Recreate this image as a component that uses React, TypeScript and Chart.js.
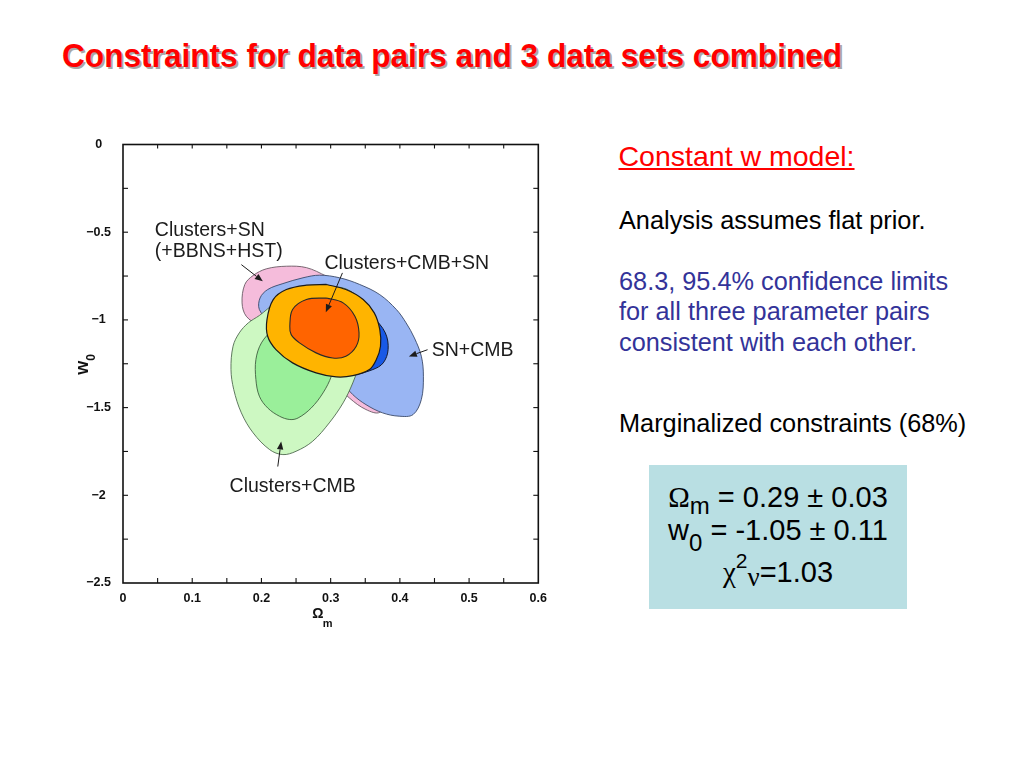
import React, { useEffect, useRef } from 'react';
import { Chart, registerables } from 'chart.js';

Chart.register(...registerables);

// ---- Contour data (Omega_m, w0) ----
// Clusters+SN (+BBNS+HST), 95% (pink)
const clSnOuterOm = [0.197, 0.178, 0.172, 0.176, 0.188, 0.207, 0.236, 0.265, 0.294, 0.332, 0.366, 0.390, 0.395, 0.385, 0.371, 0.351, 0.327, 0.284, 0.236];
const clSnOuterW = [-1.036, -0.979, -0.903, -0.798, -0.747, -0.709, -0.694, -0.702, -0.751, -0.827, -0.941, -1.093, -1.245, -1.435, -1.527, -1.511, -1.445, -1.283, -1.131];

// SN+CMB, 95% (light blue)
const snCmbOuterOm = [0.212, 0.197, 0.198, 0.209, 0.231, 0.260, 0.284, 0.313, 0.342, 0.371, 0.395, 0.409, 0.421, 0.431, 0.434, 0.431, 0.419, 0.399, 0.375, 0.351, 0.332, 0.308, 0.274, 0.236];
const snCmbOuterW = [-1.017, -0.941, -0.875, -0.827, -0.793, -0.760, -0.745, -0.760, -0.798, -0.856, -0.941, -1.017, -1.103, -1.207, -1.321, -1.454, -1.540, -1.549, -1.530, -1.483, -1.426, -1.321, -1.207, -1.093];

// SN+CMB, 68% (dark blue)
const snCmbInnerOm = [0.217, 0.245, 0.294, 0.332, 0.361, 0.379, 0.383, 0.376, 0.361, 0.332, 0.294, 0.245, 0.217];
const snCmbInnerW = [-0.922, -0.837, -0.808, -0.846, -0.979, -1.074, -1.169, -1.245, -1.283, -1.312, -1.302, -1.226, -1.093];

// Clusters+CMB, 95% (light green)
const clCmbOuterOm = [0.294, 0.322, 0.342, 0.351, 0.349, 0.342, 0.332, 0.318, 0.298, 0.274, 0.250, 0.231, 0.212, 0.188, 0.171, 0.160, 0.156, 0.159, 0.168, 0.181, 0.197, 0.221, 0.255];
const clCmbOuterW = [-0.808, -0.823, -0.884, -0.979, -1.131, -1.245, -1.359, -1.473, -1.587, -1.692, -1.749, -1.768, -1.740, -1.644, -1.530, -1.397, -1.283, -1.150, -1.074, -1.017, -0.975, -0.903, -0.846];

// Clusters+CMB, 68% (green)
const clCmbInnerOm = [0.245, 0.274, 0.298, 0.308, 0.301, 0.289, 0.272, 0.253, 0.241, 0.226, 0.209, 0.197, 0.192, 0.192, 0.200, 0.217];
const clCmbInnerW = [-0.979, -0.979, -1.055, -1.207, -1.321, -1.416, -1.502, -1.559, -1.568, -1.549, -1.502, -1.435, -1.340, -1.226, -1.131, -1.055];

// Clusters+CMB+SN, 95% (orange)
const allOuterOm = [0.294, 0.322, 0.347, 0.363, 0.371, 0.372, 0.366, 0.356, 0.332, 0.308, 0.279, 0.245, 0.221, 0.209, 0.208, 0.217, 0.236, 0.265];
const allOuterW = [-0.798, -0.827, -0.884, -0.960, -1.055, -1.150, -1.226, -1.283, -1.318, -1.325, -1.302, -1.245, -1.169, -1.093, -0.998, -0.884, -0.827, -0.802];

// Clusters+CMB+SN, 68% (red-orange)
const allInnerOm = [0.294, 0.318, 0.335, 0.341, 0.337, 0.322, 0.303, 0.279, 0.255, 0.243, 0.241, 0.245, 0.265];
const allInnerW = [-0.875, -0.903, -0.979, -1.074, -1.150, -1.207, -1.217, -1.188, -1.131, -1.084, -1.036, -0.941, -0.884];

// ---- Axis ranges ----
const xRange = [0, 0.6];
const yRange = [-2.5, 0];
const xStep = 0.05;
const yStep = 0.25;

// ---- Annotation texts (anchored in data units) ----
const labelTexts = ['Clusters+SN', '(+BBNS+HST)', 'Clusters+CMB+SN', 'SN+CMB', 'Clusters+CMB'];
const labelOm = [0.046, 0.046, 0.291, 0.446, 0.154];
const labelW = [-0.52, -0.639, -0.709, -1.208, -1.979];

const arrowFromOm = [0.171, 0.317, 0.440, 0.2236];
const arrowFromW = [-0.685, -0.732, -1.170, -1.836];
const arrowToOm = [0.202, 0.293, 0.413, 0.2285];
const arrowToW = [-0.780, -0.957, -1.208, -1.693];

const SANS = '"Liberation Sans", Arial, Helvetica, sans-serif';
const SERIF = '"Liberation Serif", "DejaVu Serif", "Times New Roman", serif';

function zip(om: number[], w: number[]) {
  const pts = om.map((v, i) => ({ x: v, y: w[i] }));
  pts.push({ ...pts[0] });
  return pts;
}

const fmtX = (v: number) => {
  const k = Math.round(v * 20);
  if (k % 2 !== 0) return '';
  return k === 0 ? '0' : (k / 20).toFixed(1);
};
const fmtY = (v: number) => {
  const k = Math.round(v * 4);
  if (k % 2 !== 0) return '';
  if (k === 0) return '0';
  const a = Math.abs(k / 4);
  return '\u2212' + (Number.isInteger(a) ? String(a) : a.toFixed(1));
};

const framePlugin = {
  id: 'frameTicks',
  afterDatasetsDraw(chart: any) {
    const { ctx, chartArea: a, scales } = chart;
    const xs = scales.x;
    const ys = scales.y;
    ctx.save();
    ctx.strokeStyle = '#111';
    ctx.lineWidth = 1.1;
    const seg = (x1: number, y1: number, x2: number, y2: number) => {
      ctx.beginPath();
      ctx.moveTo(x1, y1);
      ctx.lineTo(x2, y2);
      ctx.stroke();
    };
    xs.ticks.forEach((t: any) => {
      const px = xs.getPixelForValue(t.value);
      if (px <= a.left + 1 || px >= a.right - 1) return;
      seg(px, a.bottom, px, a.bottom - 5);
      seg(px, a.top, px, a.top + 4);
    });
    ys.ticks.forEach((t: any) => {
      const py = ys.getPixelForValue(t.value);
      if (py <= a.top + 1 || py >= a.bottom - 1) return;
      seg(a.left, py, a.left + 5, py);
      seg(a.right, py, a.right - 5, py);
    });
    ctx.lineWidth = 1.6;
    ctx.strokeRect(a.left, a.top, a.right - a.left, a.bottom - a.top);
    ctx.restore();
  },
};

const annotationPlugin = {
  id: 'contourLabels',
  afterDatasetsDraw(chart: any) {
    const { ctx, scales } = chart;
    const xs = scales.x;
    const ys = scales.y;
    ctx.save();
    ctx.fillStyle = '#1c1c1c';
    ctx.strokeStyle = '#1c1c1c';
    ctx.font = `19.5px ${SANS}`;
    ctx.textBaseline = 'alphabetic';
    ctx.textAlign = 'left';
    labelTexts.forEach((t, i) => {
      ctx.fillText(t, xs.getPixelForValue(labelOm[i]), ys.getPixelForValue(labelW[i]));
    });
    ctx.lineWidth = 1;
    arrowFromOm.forEach((_, i) => {
      const x1 = xs.getPixelForValue(arrowFromOm[i]);
      const y1 = ys.getPixelForValue(arrowFromW[i]);
      const x2 = xs.getPixelForValue(arrowToOm[i]);
      const y2 = ys.getPixelForValue(arrowToW[i]);
      const ang = Math.atan2(y2 - y1, x2 - x1);
      const hl = 8;
      const hw = 3.2;
      const bx = x2 - hl * Math.cos(ang);
      const by = y2 - hl * Math.sin(ang);
      ctx.beginPath();
      ctx.moveTo(x1, y1);
      ctx.lineTo(bx, by);
      ctx.stroke();
      ctx.beginPath();
      ctx.moveTo(x2, y2);
      ctx.lineTo(bx + hw * Math.sin(ang), by - hw * Math.cos(ang));
      ctx.lineTo(bx - hw * Math.sin(ang), by + hw * Math.cos(ang));
      ctx.closePath();
      ctx.fill();
    });
    ctx.restore();
  },
  afterDraw(chart: any) {
    const { ctx, chartArea: a } = chart;
    ctx.save();
    ctx.fillStyle = '#111';
    ctx.textBaseline = 'alphabetic';
    ctx.textAlign = 'left';
    // x-axis title: Omega_m
    const cx = (a.left + a.right) / 2;
    ctx.font = `bold 14px ${SANS}`;
    ctx.fillText('\u03A9', cx - 18.5, a.bottom + 35.3);
    ctx.font = `bold 11px ${SANS}`;
    ctx.fillText('m', cx - 8, a.bottom + 44);
    // y-axis title: w_0 (rotated)
    const cy = (a.top + a.bottom) / 2;
    ctx.translate(a.left - 35, cy + 11);
    ctx.rotate(-Math.PI / 2);
    ctx.font = `bold 18px ${SANS}`;
    ctx.fillText('w', 0, 0);
    const ww = ctx.measureText('w').width;
    ctx.font = `bold 12px ${SANS}`;
    ctx.fillText('0', ww, 7);
    ctx.restore();
  },
};

const contours = [
  { om: clSnOuterOm, w: clSnOuterW, fill: '#f5bcdb', line: '#6a5a64', lw: 0.9 },
  { om: snCmbOuterOm, w: snCmbOuterW, fill: '#99b5f3', line: '#3a4a6a', lw: 0.9 },
  { om: snCmbInnerOm, w: snCmbInnerW, fill: '#1859e6', line: '#101830', lw: 1 },
  { om: clCmbOuterOm, w: clCmbOuterW, fill: '#cdf8c2', line: '#4f6a4f', lw: 0.9 },
  { om: clCmbInnerOm, w: clCmbInnerW, fill: '#9aef9a', line: '#3f5f3f', lw: 0.9 },
  { om: allOuterOm, w: allOuterW, fill: '#ffb400', line: '#1a1a1a', lw: 1.2 },
  { om: allInnerOm, w: allInnerW, fill: '#ff6400', line: '#2a2a2a', lw: 1.1 },
];

function ContourChart() {
  const ref = useRef<HTMLCanvasElement | null>(null);
  useEffect(() => {
    if (!ref.current) return;
    const n = contours.length;
    const datasets = contours.map((c, i) => ({
      data: zip(c.om, c.w),
      showLine: true,
      fill: 'shape',
      backgroundColor: c.fill,
      borderColor: c.line,
      borderWidth: c.lw,
      pointRadius: 0,
      pointHoverRadius: 0,
      tension: 0.35,
      order: n - i,
    }));
    const tickFont = { family: SANS, size: 12.5, weight: 'bold' as const };
    const chart = new Chart(ref.current, {
      type: 'scatter',
      data: { datasets: datasets as any },
      options: {
        animation: false,
        responsive: true,
        maintainAspectRatio: false,
        events: [],
        layout: { padding: { left: 0, top: 0, right: 16, bottom: 0 } },
        plugins: { legend: { display: false }, tooltip: { enabled: false } },
        scales: {
          x: {
            type: 'linear',
            min: xRange[0],
            max: xRange[1],
            afterFit: (s: any) => { s.height = 52; },
            grid: { display: false, drawTicks: false },
            border: { display: false },
            ticks: {
              stepSize: xStep,
              autoSkip: false,
              maxRotation: 0,
              padding: 8,
              color: '#111',
              font: tickFont,
              callback: (v: any) => fmtX(Number(v)),
            },
          },
          y: {
            type: 'linear',
            min: yRange[0],
            max: yRange[1],
            afterFit: (s: any) => { s.width = 63; },
            grid: { display: false, drawTicks: false },
            border: { display: false },
            ticks: {
              stepSize: yStep,
              autoSkip: false,
              padding: 12,
              crossAlign: 'center',
              color: '#111',
              font: tickFont,
              callback: (v: any) => fmtY(Number(v)),
            },
          },
        },
      },
      plugins: [framePlugin, annotationPlugin],
    });
    return () => chart.destroy();
  }, []);
  return <canvas ref={ref} />;
}

export default function App() {
  const body: React.CSSProperties = {
    position: 'absolute',
    left: 619,
    fontSize: 25.3,
    lineHeight: '30.5px',
    whiteSpace: 'nowrap',
  };
  const boxLine: React.CSSProperties = {
    position: 'absolute',
    left: 0,
    width: 258,
    textAlign: 'center',
    fontSize: 29,
    lineHeight: '29px',
    color: '#000',
    whiteSpace: 'nowrap',
  };
  return (
    <div
      style={{
        position: 'fixed',
        left: 0,
        top: 0,
        width: 1024,
        height: 768,
        background: '#fff',
        overflow: 'hidden',
        fontFamily: SANS,
      }}
    >
      <div
        style={{
          position: 'absolute',
          left: 62,
          top: 38,
          fontSize: 34,
          lineHeight: '34px',
          fontWeight: 'bold',
          color: '#f00',
          textShadow: '2px 2px 0 #a8a8a8',
          whiteSpace: 'nowrap',
          transform: 'scaleX(0.93)',
          transformOrigin: '0 0',
        }}
      >
        Constraints for data pairs and 3 data sets combined
      </div>

      <div style={{ position: 'absolute', left: 60, top: 125, width: 495, height: 510 }}>
        <ContourChart />
      </div>

      <div
        style={{
          position: 'absolute',
          left: 618.5,
          top: 142,
          fontSize: 28.5,
          lineHeight: '28.5px',
          color: '#f00',
          textDecoration: 'underline',
          whiteSpace: 'nowrap',
        }}
      >
        Constant w model:
      </div>
      <div style={{ ...body, top: 229 - 15.25 - 8.77, color: '#000' }}>Analysis assumes flat prior.</div>
      <div style={{ ...body, top: 290 - 15.25 - 8.77, color: '#333399' }}>
        68.3, 95.4% confidence limits
        <br />
        for all three parameter pairs
        <br />
        consistent with each other.
      </div>
      <div style={{ ...body, top: 431.7 - 15.25 - 8.77, color: '#000' }}>Marginalized constraints (68%)</div>

      <div style={{ position: 'absolute', left: 649, top: 465, width: 258, height: 144, background: '#b9dfe3' }}>
        <div style={{ ...boxLine, top: 507.7 - 465 - 24.5 }}>
          <span style={{ fontFamily: SERIF }}>{'\u03A9'}</span>
          <span style={{ position: 'relative', top: 7, fontSize: 24 }}>m</span> = 0.29 ± 0.03
        </div>
        <div style={{ ...boxLine, top: 540 - 465 - 24.5 }}>
          w<span style={{ position: 'relative', top: 11, fontSize: 24 }}>0</span> = -1.05 ± 0.11
        </div>
        <div style={{ ...boxLine, top: 582.7 - 465 - 24.5 }}>
          <span style={{ fontFamily: SERIF }}>{'\u03C7'}</span>
          <span style={{ position: 'relative', top: -14, fontSize: 21 }}>2</span>
          <span style={{ position: 'relative', top: 4, fontSize: 27, fontFamily: SERIF }}>{'\u03BD'}</span>=1.03
        </div>
      </div>
    </div>
  );
}
